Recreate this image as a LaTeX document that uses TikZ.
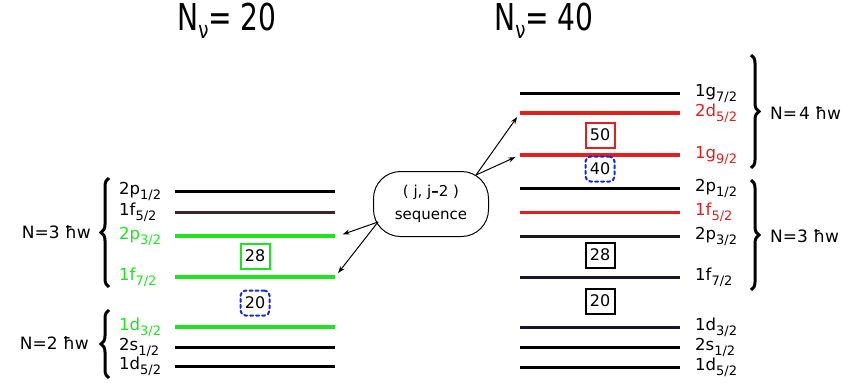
\documentclass[tikz,border=0pt]{standalone}
\usepackage{fontspec}
\setmainfont{DejaVu Sans}
\newfontfamily\titlefont[FakeStretch=0.76]{DejaVu Sans}
\usetikzlibrary{arrows.meta,decorations.pathreplacing}
\definecolor{lgreen}{RGB}{30,228,30}
\definecolor{lred}{RGB}{228,30,30}
\definecolor{dblue}{RGB}{20,40,225}
\definecolor{dbrown}{RGB}{58,40,40}
\definecolor{dnavy}{RGB}{22,22,38}
% orbital label with lowered subscript
\newcommand\orb[2]{#1\raisebox{-5pt}{\fontsize{13}{13}\selectfont #2}}
\newcommand\hw{ħw}

\begin{document}
\begin{tikzpicture}[x=1pt,y=-1pt]
\tikzset{
  lab/.style={font=\fontsize{16.5}{18}\selectfont,inner sep=0pt},
  magic/.style={draw,line width=2pt,minimum width=29pt,minimum height=25pt,inner sep=0pt,font=\fontsize{16}{17}\selectfont},
  newmagic/.style={magic,dblue,text=black,dashed,dash pattern=on 3pt off 3pt,rounded corners=5pt,line cap=round},
  shell/.style={font=\fontsize{17}{19}\selectfont,inner sep=0pt},
  curly/.style={line width=3pt,decorate,decoration={brace,amplitude=8pt}},
  jump/.style={-{Stealth[length=7pt,width=5pt]},line width=1pt,shorten >=5pt}
}
\useasboundingbox (0,0) rectangle (848,383);

% titles
\node[font=\titlefont\fontsize{37}{40}\selectfont] (t20) at (227,21) {N\raisebox{-8pt}{\fontsize{24}{24}\selectfont ν}= 20};
\node[font=\titlefont\fontsize{37}{40}\selectfont] (t40) at (544,21) {N\raisebox{-8pt}{\fontsize{24}{24}\selectfont ν}= 40};

% left: N = 20
\foreach \y/\lc/\tc/\w/\o/\j [count=\i] in {191/black/black/3/2p/1, 212/dbrown/black/3/1f/5, 236/lgreen/lgreen/4.5/2p/3, 277/lgreen/lgreen/4.5/1f/7, 327/lgreen/lgreen/4.5/1d/3, 347/black/black/3/2s/1, 366/black/black/3/1d/5}
{
  \draw[\lc,line width=\w pt] (175,\y) coordinate (L\i a) -- (335,\y) coordinate (L\i b);
  \node[lab,text=\tc,anchor=base west] (Ln\i) at (119,\y+3) {\orb{\o}{\j/2}};
}
\node[magic,lgreen,text=black] (m28l) at (255,256) {28};
\node[newmagic] (m20l) at (255,303) {20};

\draw[curly] (109,287) -- (109,178);
\draw[curly] (109,378) -- (109,310);
\node[shell,anchor=east] (n3l) at (91,232) {N=3 \hw};
\node[shell,anchor=east] (n2l) at (89,343) {N=2 \hw};

% right: N = 40
\foreach \y/\lc/\tc/\w/\o/\j [count=\i] in {93/black/black/3/1g/7, 113/lred/lred/4.5/2d/5, 155/lred/lred/4.5/1g/9, 188/black/black/3/2p/1, 212/lred/lred/3/1f/5, 236/dnavy/black/3/2p/3, 277/dnavy/black/3/1f/7, 327/dnavy/black/3/1d/3, 347/black/black/3/2s/1, 367/black/black/3/1d/5}
{
  \draw[\lc,line width=\w pt] (520,\y) coordinate (R\i a) -- (680,\y) coordinate (R\i b);
  \node[lab,text=\tc,anchor=base west] (Rn\i) at (695,\y+3) {\orb{\o}{\j/2}};
}
\node[magic,lred,text=black] (m50) at (600,135) {50};
\node[newmagic] (m40) at (600,169) {40};
\node[magic,black] (m28r) at (600,255) {28};
\node[magic,black] (m20r) at (600,301) {20};

\draw[curly] (751,55) -- (751,168);
\draw[curly] (751,180) -- (751,290);
\node[shell,anchor=west] (n4r) at (770,113) {N=\hspace{2pt}4 \hw};
\node[shell,anchor=west] (n3r) at (770,236) {N=3 \hw};

% (j, j-2) partners
\node[draw,line width=1pt,rounded corners=27pt,minimum width=115pt,minimum height=65pt,align=center,font=\fontsize{15}{16}\selectfont] (seq) at (431,204) {( j, j\textbf{–}2 )\\[7pt]sequence};
\coordinate (seqL) at (378,222);
\coordinate (seqR) at (476,175);
\draw[jump] (seqL) -- ([xshift=3pt]L3b);
\draw[jump] (seqL) -- (L4b);
\draw[jump] (seqR) -- (R2a);
\draw[jump] (seqR) -- (R3a);
\end{tikzpicture}
\end{document}
